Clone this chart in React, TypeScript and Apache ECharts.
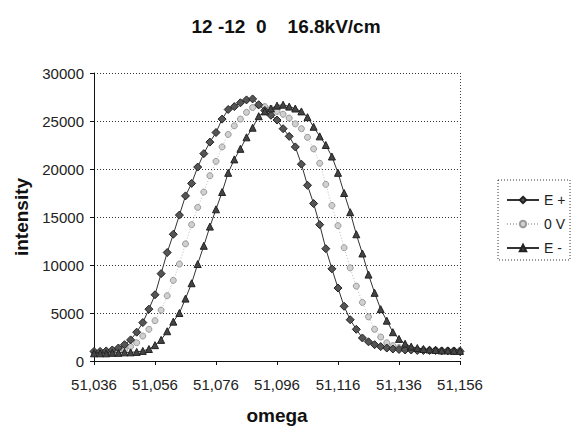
import React, { useEffect, useRef } from "react";
import * as echarts from "echarts";

const omega: string[] = Array.from({ length: 61 }, (_, i) => (51.036 + i * 0.002).toFixed(3));

const ePlus: number[] = [
  1000, 1000, 1050, 1150, 1350, 1700, 2200, 3000, 4000, 5400,
  6900, 9100, 11300, 13200, 15200, 17200, 18500, 20200, 21600, 22800,
  23800, 25200, 26200, 26500, 26900, 27200, 27300, 26700, 26100, 25600,
  25100, 24200, 23400, 22300, 20500, 18300, 16400, 14200, 11700, 9600,
  7600, 5700, 4300, 3300, 2400, 2000, 1700, 1500, 1350, 1250,
  1200, 1150, 1150, 1100, 1100, 1100, 1100, 1050, 1050, 1050, 1000,
];

const zeroV: number[] = [
  900, 900, 950, 1000, 1050, 1200, 1500, 1900, 2600, 3300,
  4200, 5300, 6800, 8400, 10100, 12200, 14200, 16000, 17600, 19300,
  20800, 22300, 23600, 24500, 25200, 25900, 26400, 26600, 26500, 26300,
  26000, 25700, 25300, 24700, 24200, 23300, 22100, 20600, 18400, 16200,
  14100, 11800, 9700, 7800, 6100, 4600, 3300, 2500, 1900, 1600,
  1400, 1300, 1250, 1200, 1200, 1150, 1150, 1100, 1100, 1100, 1100,
];

const eMinus: number[] = [
  800, 800, 800, 850, 850, 900, 900, 950, 1050, 1250,
  1650, 2200, 3100, 4100, 5000, 6500, 8100, 10100, 12000, 14000,
  15800, 17600, 19600, 21000, 22100, 23300, 24300, 25500, 26000, 26300,
  26600, 26700, 26500, 26300, 26000, 25400, 24400, 23400, 22500, 21300,
  19600, 17500, 15500, 13200, 11200, 9000, 7100, 5400, 4200, 3000,
  2300, 1800, 1500, 1350, 1250, 1200, 1150, 1100, 1100, 1050, 1050,
];

const seriesNames = ["E +", "0 V", "E -"];
const titleText = "12 -12  0    16.8kV/cm";

const FONT = "'Liberation Sans', Arial, sans-serif";

export default function App() {
  const ref = useRef<HTMLDivElement>(null);
  useEffect(() => {
    if (!ref.current) return;
    const chart = echarts.init(ref.current, undefined, { renderer: "svg" });
    chart.setOption({
      animation: false,
      backgroundColor: "#ffffff",
      textStyle: { fontFamily: FONT },
      title: {
        text: titleText,
        left: "center",
        top: 12,
        textStyle: { fontFamily: FONT, fontSize: 19, fontWeight: "bold", color: "#111" },
      },
      grid: { left: 94, top: 73, width: 366, height: 294 },
      legend: {
        orient: "vertical",
        left: 501,
        top: 188,
        itemGap: 10,
        itemWidth: 32,
        itemHeight: 8,
        textStyle: { fontFamily: FONT, fontSize: 14, color: "#222" },
        data: seriesNames,
      },
      graphic: [
        {
          type: "rect",
          shape: { x: 498, y: 180, width: 72, height: 80 },
          style: { fill: "none", stroke: "#333", lineWidth: 1, lineDash: [1, 2] },
        },
      ],
      xAxis: {
        type: "category",
        data: omega,
        boundaryGap: false,
        name: "omega",
        nameLocation: "middle",
        nameGap: 45,
        nameTextStyle: { fontFamily: FONT, fontSize: 19, fontWeight: "bold", color: "#111" },
        axisLine: { lineStyle: { color: "#111", width: 1 } },
        axisTick: { show: true, interval: 9, length: 4, inside: false, lineStyle: { color: "#111" } },
        axisLabel: {
          interval: 9,
          margin: 16,
          fontFamily: FONT,
          fontSize: 15,
          color: "#222",
          formatter: (v: string) => v.replace(".", ","),
        },
        splitLine: {
          show: true,
          interval: (index: number) => index === omega.length - 1,
          lineStyle: { color: "#444", type: [1, 2], width: 1 },
        },
      },
      yAxis: {
        type: "value",
        min: 0,
        max: 30000,
        interval: 5000,
        name: "intensity",
        nameLocation: "middle",
        nameGap: 63,
        nameTextStyle: { fontFamily: FONT, fontSize: 19, fontWeight: "bold", color: "#111" },
        axisLine: { show: true, lineStyle: { color: "#111", width: 1 } },
        axisTick: { show: true, length: 4, inside: false, lineStyle: { color: "#111" } },
        axisLabel: {
          margin: 10,
          fontFamily: FONT,
          fontSize: 15,
          color: "#222",
          formatter: (v: number) => String(v),
        },
        splitLine: { show: true, lineStyle: { color: "#333", type: [1, 2], width: 1 } },
      },
      series: [
        {
          name: seriesNames[0],
          type: "line",
          data: ePlus,
          symbol: "diamond",
          symbolSize: 8,
          showAllSymbol: true,
          itemStyle: { color: "#555", borderColor: "#222", borderWidth: 1 },
          lineStyle: { color: "#333", width: 1 },
          z: 3,
        },
        {
          name: seriesNames[1],
          type: "line",
          data: zeroV,
          symbol: "circle",
          symbolSize: 6,
          showAllSymbol: true,
          itemStyle: { color: "#d0d0d0", borderColor: "#999", borderWidth: 1 },
          lineStyle: { color: "#bbb", width: 1, type: [1, 2] },
          z: 2,
        },
        {
          name: seriesNames[2],
          type: "line",
          data: eMinus,
          symbol: "triangle",
          symbolSize: 7,
          showAllSymbol: true,
          itemStyle: { color: "#444", borderColor: "#222", borderWidth: 1 },
          lineStyle: { color: "#333", width: 1 },
          z: 3,
        },
      ],
    });
    return () => chart.dispose();
  }, []);
  return (
    <div
      ref={ref}
      style={{ position: "fixed", left: 0, top: 0, width: 572, height: 430 }}
    />
  );
}
